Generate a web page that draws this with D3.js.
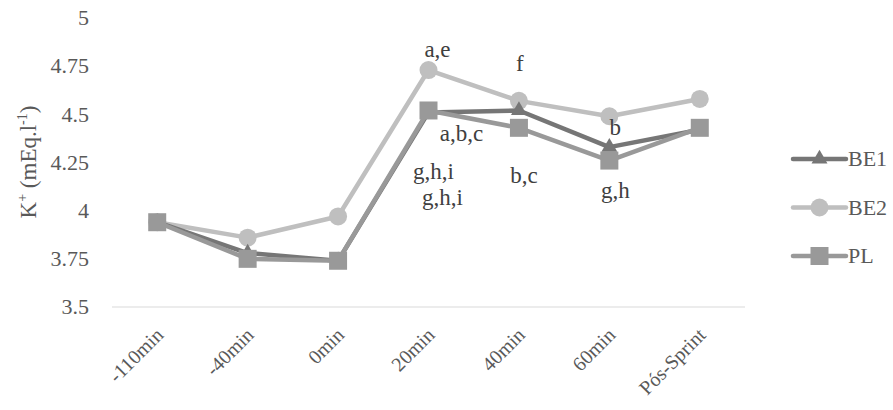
<!DOCTYPE html>
<html><head><meta charset="utf-8">
<script src="https://cdn.jsdelivr.net/npm/d3@7"></script>
<style>body{margin:0;background:#fff}svg{display:block}</style>
</head><body>
<svg id="c" width="893" height="410"></svg>
<script>
const categories = ["-110min","-40min","0min","20min","40min","60min","Pós-Sprint"];
const be1 = [3.94,3.78,3.74,4.51,4.52,4.33,4.42];
const be2 = [3.94,3.86,3.97,4.73,4.57,4.49,4.58];
const pl  = [3.94,3.75,3.74,4.52,4.43,4.26,4.43];
const yTicks = [3.5,3.75,4,4.25,4.5,4.75,5];
const seriesNames = ["BE1","BE2","PL"];
const annotations = [
  {cat:"20min", v:4.73, t:"a,e", dx:9, dy:-13},
  {cat:"40min", v:4.57, t:"f", dx:1, dy:-30},
  {cat:"20min", v:4.51, t:"a,b,c", dx:33, dy:29},
  {cat:"20min", v:4.51, t:"g,h,i", dx:5, dy:67},
  {cat:"20min", v:4.51, t:"g,h,i", dx:14, dy:93},
  {cat:"40min", v:4.43, t:"b,c", dx:5, dy:55},
  {cat:"60min", v:4.33, t:"b", dx:6, dy:-12},
  {cat:"60min", v:4.26, t:"g,h", dx:6, dy:37}
];

const FF = "'Liberation Serif', 'Times New Roman', Times, serif";
const svg = d3.select("#c");
const x = d3.scaleBand().domain(categories).range([112,745]);
const y = d3.scaleLinear().domain([3.5,5]).range([307,18]);
const cx = c => x(c) + x.bandwidth()/2;
const T = (sel, size) => sel.style("font-family", FF, "important").style("font-size", size + "px", "important");

svg.append("line").attr("x1",112).attr("x2",745).attr("y1",y(3.5)).attr("y2",y(3.5))
  .attr("stroke","#d9d9d9").attr("stroke-width",1);

T(svg.append("g").selectAll("text").data(yTicks).join("text")
  .attr("x",89).attr("y",d=>y(d)).attr("dy","0.33em").attr("text-anchor","end")
  .attr("fill","#595959").text(d=>d3.format("")(d)), 22);

T(svg.append("g").selectAll("text").data(categories).join("text")
  .attr("transform",d=>`translate(${cx(d)+3},${332}) rotate(-45)`)
  .attr("text-anchor","end").attr("dy","0.3em")
  .attr("fill","#595959").text(d=>d), 20);

const yt = T(svg.append("text").attr("transform","translate(36,162) rotate(-90)")
  .attr("text-anchor","middle").attr("fill","#595959"), 23);
yt.append("tspan").text("K");
T(yt.append("tspan").attr("dy",-9),14).text("+");
yt.append("tspan").attr("dy",9).text(" (mEq.l");
T(yt.append("tspan").attr("dy",-9),14).text("-1");
yt.append("tspan").attr("dy",9).text(")");

const series = [
  {name:"BE1", vals:be1, color:"#767676", shape:"tri"},
  {name:"BE2", vals:be2, color:"#bfbfbf", shape:"circ"},
  {name:"PL",  vals:pl,  color:"#999999", shape:"sq"}
];
const line = d3.line().x((d,i)=>cx(categories[i])).y(d=>y(d));
function marker(g, shape, color, px, py){
  if(shape==="tri") g.append("path").attr("d",d3.symbol(d3.symbolTriangle,110)()).attr("transform",`translate(${px},${py})`).attr("fill",color);
  else if(shape==="circ") g.append("circle").attr("cx",px).attr("cy",py).attr("r",9).attr("fill",color);
  else g.append("rect").attr("x",px-9).attr("y",py-9).attr("width",18).attr("height",18).attr("fill",color);
}
const order = [series[1], series[0], series[2]];
order.forEach(s=>{
  const g = svg.append("g");
  g.append("path").datum(s.vals).attr("d",line).attr("fill","none")
    .attr("stroke",s.color).attr("stroke-width",4.5).attr("stroke-linejoin","round").attr("stroke-linecap","round");
  s.vals.forEach((v,i)=>marker(g,s.shape,s.color,cx(categories[i]),y(v)));
});

T(svg.append("g").selectAll("text").data(annotations).join("text")
  .attr("x",d=>cx(d.cat)+d.dx).attr("y",d=>y(d.v)+d.dy).attr("text-anchor","middle")
  .attr("fill","#404040").text(d=>d.t), 23);

const lg = svg.append("g");
series.forEach((s,i)=>{
  const ly = 159 + i*48.5;
  lg.append("line").attr("x1",793).attr("x2",846).attr("y1",ly).attr("y2",ly)
    .attr("stroke",s.color).attr("stroke-width",4.5).attr("stroke-linecap","round");
  marker(lg,s.shape,s.color,819.5,ly);
  T(lg.append("text").attr("x",848).attr("y",ly).attr("dy","0.33em")
    .attr("fill","#595959").text(s.name), 22);
});
</script>
</body></html>
